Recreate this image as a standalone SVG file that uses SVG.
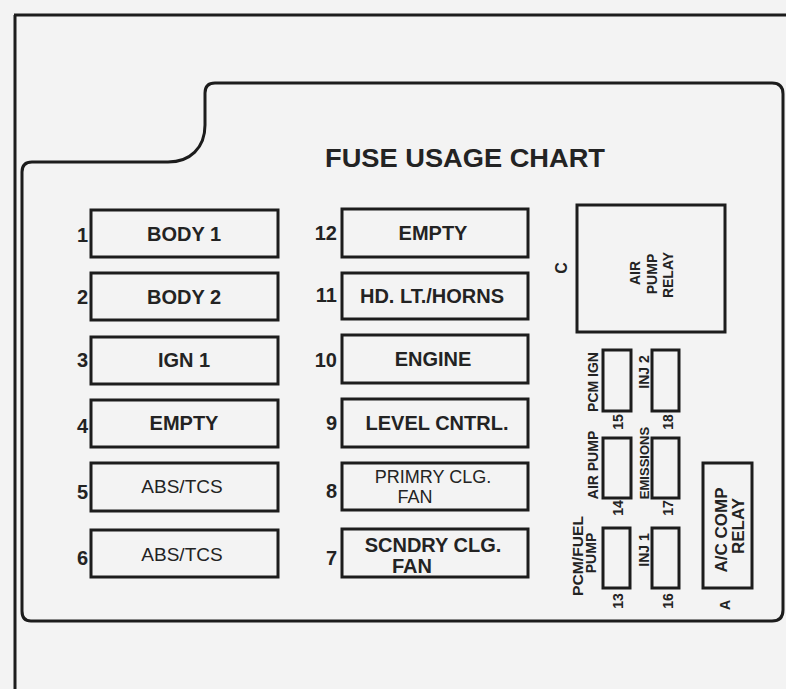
<svg xmlns="http://www.w3.org/2000/svg" width="786" height="689" viewBox="0 0 786 689">
<style>
.frame{fill:none;stroke:#1c1c1c;stroke-width:3;stroke-linejoin:round}
.box{fill:none;stroke:#1c1c1c;stroke-width:3}
text{font-family:"Liberation Sans",Arial,Helvetica,sans-serif;fill:#232323}
.lbl{font-size:20px;font-weight:bold;text-anchor:middle}
.reg{font-size:19px;font-weight:normal;text-anchor:middle}
.num{font-size:20px;font-weight:bold;text-anchor:end}
.sm{font-size:14px;font-weight:bold;text-anchor:middle}
.title{font-size:26px;font-weight:bold}
</style>
<rect x="0" y="0" width="786" height="689" fill="#f3f3f3"/>
<g id="frame">
<path class="frame" d="M14,15 H786 M15,15 V689"/>
<path class="frame" d="M215,83 H772 Q783,83 783,94 V610 Q783,621 772,621 H31 Q22,621 22,611 V172 Q22,162 32,162 H168 C190,162 205,148 205,125 V93 Q205,83 215,83 Z"/>
</g>
<text id="title" class="title" x="325" y="167" textLength="280" lengthAdjust="spacingAndGlyphs">FUSE USAGE CHART</text>
<g id="connectors"/>
<g id="fuse1"><rect class="box" x="91" y="210" width="187" height="47"/><text class="num" x="88" y="242">1</text><text class="lbl" x="184" y="241">BODY 1</text></g>
<g id="fuse2"><rect class="box" x="91" y="273" width="187" height="47"/><text class="num" x="88" y="304">2</text><text class="lbl" x="184" y="304">BODY 2</text></g>
<g id="fuse3"><rect class="box" x="91" y="337" width="187" height="47"/><text class="num" x="88" y="367">3</text><text class="lbl" x="184" y="367">IGN 1</text></g>
<g id="fuse4"><rect class="box" x="91" y="400" width="187" height="47"/><text class="num" x="88" y="433">4</text><text class="lbl" x="184" y="430">EMPTY</text></g>
<g id="fuse5"><rect class="box" x="91" y="463" width="187" height="48"/><text class="num" x="88" y="499">5</text><text class="reg" x="182" y="493">ABS/TCS</text></g>
<g id="fuse6"><rect class="box" x="91" y="530" width="187" height="47"/><text class="num" x="88" y="565">6</text><text class="reg" x="182" y="561">ABS/TCS</text></g>
<g id="fuse12"><rect class="box" x="342" y="209" width="186" height="48"/><text class="num" x="337" y="240">12</text><text class="lbl" x="433" y="240">EMPTY</text></g>
<g id="fuse11"><rect class="box" x="342" y="273" width="186" height="46"/><text class="num" x="337" y="302">11</text><text class="lbl" x="432" y="303">HD. LT./HORNS</text></g>
<g id="fuse10"><rect class="box" x="342" y="335" width="186" height="48"/><text class="num" x="337" y="367">10</text><text class="lbl" x="433" y="366">ENGINE</text></g>
<g id="fuse9"><rect class="box" x="342" y="399" width="186" height="48"/><text class="num" x="337" y="430">9</text><text class="lbl" x="437" y="430">LEVEL CNTRL.</text></g>
<g id="fuse8"><rect class="box" x="342" y="463" width="186" height="47"/><text class="num" x="337" y="498">8</text><text class="reg" x="433" y="483" style="font-size:18px">PRIMRY CLG.</text><text class="reg" x="415" y="503" style="font-size:18px">FAN</text></g>
<g id="fuse7"><rect class="box" x="342" y="529" width="186" height="48"/><text class="num" x="337" y="565">7</text><text class="lbl" x="433" y="552">SCNDRY CLG.</text><text class="lbl" x="412" y="573">FAN</text></g>
<g id="relayC"><rect class="box" x="577" y="205" width="148" height="127"/>
<text class="sm" transform="translate(567,268) rotate(-90)" style="font-size:16px">C</text>
<text class="sm" transform="translate(640,273) rotate(-90)">AIR</text>
<text class="sm" transform="translate(657,274) rotate(-90)">PUMP</text>
<text class="sm" transform="translate(673,275) rotate(-90)">RELAY</text></g>
<g id="fuse15"><rect class="box" x="603" y="350" width="28" height="61"/>
<text class="sm" transform="translate(598,382) rotate(-90)">PCM IGN</text>
<text class="sm" transform="translate(623,422) rotate(-90)">15</text></g>
<g id="fuse18"><rect class="box" x="652" y="350" width="27" height="61"/>
<text class="sm" transform="translate(649,372) rotate(-90)">INJ 2</text>
<text class="sm" transform="translate(673,422) rotate(-90)">18</text></g>
<g id="fuse14"><rect class="box" x="603" y="438" width="28" height="60"/>
<text class="sm" transform="translate(598,465) rotate(-90)">AIR PUMP</text>
<text class="sm" transform="translate(623,508) rotate(-90)">14</text></g>
<g id="fuse17"><rect class="box" x="652" y="438" width="27" height="60"/>
<text class="sm" transform="translate(649,463) rotate(-90)" style="font-size:13px">EMISSIONS</text>
<text class="sm" transform="translate(673,508) rotate(-90)">17</text></g>
<g id="fuse13"><rect class="box" x="603" y="528" width="27" height="60"/>
<text class="sm" transform="translate(583,556) rotate(-90)" textLength="80" lengthAdjust="spacingAndGlyphs">PCM/FUEL</text>
<text class="sm" transform="translate(596,553) rotate(-90)">PUMP</text>
<text class="sm" transform="translate(623,601) rotate(-90)">13</text></g>
<g id="fuse16"><rect class="box" x="652" y="528" width="27" height="60"/>
<text class="sm" transform="translate(649,550) rotate(-90)">INJ 1</text>
<text class="sm" transform="translate(673,601) rotate(-90)">16</text></g>
<g id="relayA"><rect class="box" x="703" y="463" width="49" height="125"/>
<text class="sm" transform="translate(727,530) rotate(-90)" style="font-size:17px">A/C COMP</text>
<text class="sm" transform="translate(744,526) rotate(-90)" style="font-size:17px">RELAY</text>
<text class="sm" transform="translate(730,605) rotate(-90)">A</text></g>
</svg>
